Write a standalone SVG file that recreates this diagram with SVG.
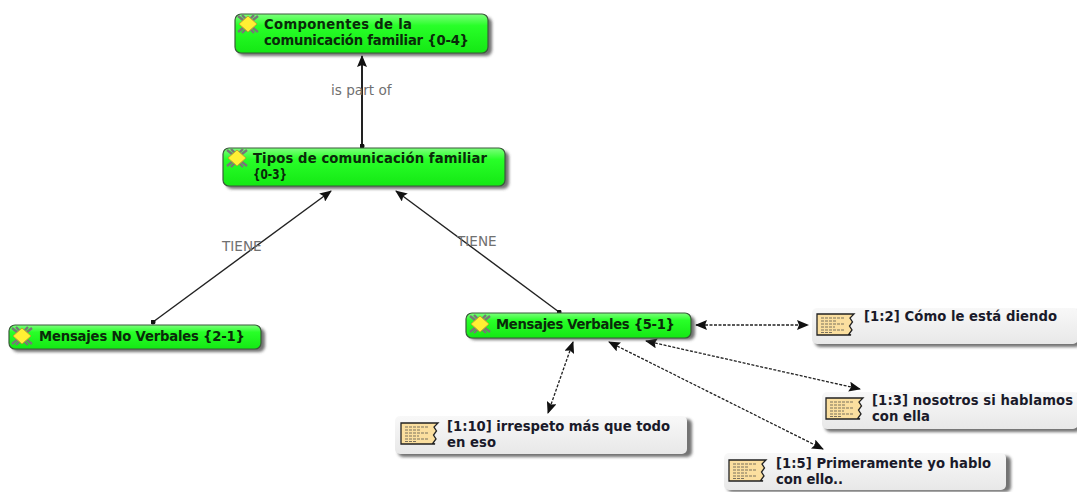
<svg xmlns="http://www.w3.org/2000/svg" width="1077" height="492" viewBox="0 0 1077 492">
<style>
text{font-family:"DejaVu Sans",sans-serif}
.t{font-size:13.2px;font-weight:600;fill:#0a2a0a}
.q{font-size:13.2px;font-weight:600;fill:#1a1a2a}
.l{font-size:13.6px;fill:#707070}
.code{fill:url(#g);stroke:#3a5a3a;stroke-width:1.2}
.quote{fill:url(#q);}
.sh{fill:#444;opacity:.75;filter:url(#b)}
.c{fill:none;stroke:#222;stroke-width:1.4}
.s{stroke-width:2}
.d{stroke-dasharray:3 1.500;stroke-width:1.3}
.ln{stroke:#444;stroke-width:.7}
</style>
<defs>
<linearGradient id="g" x1="0" y1="0" x2="0" y2="1"><stop offset="0" stop-color="#7dff7d"/><stop offset=".3" stop-color="#28ff28"/><stop offset="1" stop-color="#14e814"/></linearGradient>
<linearGradient id="q" x1="0" y1="0" x2="0" y2="1"><stop offset="0" stop-color="#f8f8f8"/><stop offset="1" stop-color="#e8e8e8"/></linearGradient>
<filter id="b" x="-5%" y="-20%" width="110%" height="140%"><feGaussianBlur stdDeviation="1.500"/></filter>
<marker id="a" viewBox="0 0 12 10" refX="11" refY="5" markerWidth="13" markerHeight="10" markerUnits="userSpaceOnUse" orient="auto-start-reverse"><path d="M0 0L12 5L0 10L2 5Z" fill="#111"/></marker>
<marker id="o" viewBox="0 0 6 6" refX="3" refY="3" markerWidth="5" markerHeight="5" markerUnits="userSpaceOnUse"><circle cx="3" cy="3" r="3" fill="#111"/></marker>
<g id="ci">
<path d="M-10-8L10 8M-10 8L10-8M-6-9L-2-5M6-9L2-5M-6 9L-2 5M6 9L2 5" stroke="#777" stroke-width="2.400" fill="none"/>
<path d="M0-8L9 0L0 8L-9 0Z" fill="#fff033" stroke="#b8a830" stroke-width="1"/>
</g>
<g id="qi">
<path d="M0 0H35L37 0L33 4L35.500 8L32.500 12L35 16L32 20L34 21H0Z" fill="#fbdf9f" stroke="#222" stroke-width="1.300"/>
<path d="M4 4H27M4 7H20M4 10H28M4 13H18M4 16H27M4 18.500H16" class="ln" stroke-dasharray="3 1"/>
</g>
</defs>
<g id="connectors">
<path class="c s" d="M362 146V56" marker-start="url(#o)" marker-end="url(#a)"/>
<path class="c" d="M153 322L331 191" marker-start="url(#o)" marker-end="url(#a)"/>
<path class="c" d="M559 312L396 191" marker-start="url(#o)" marker-end="url(#a)"/>
<path class="c d" d="M696 325H808" marker-start="url(#a)" marker-end="url(#a)"/>
<path class="c d" d="M646 341L860 389" marker-start="url(#a)" marker-end="url(#a)"/>
<path class="c d" d="M609 342L823 449" marker-start="url(#a)" marker-end="url(#a)"/>
<path class="c d" d="M573 342L548 413" marker-start="url(#a)" marker-end="url(#a)"/>
<text class="l" x="331" y="95">is part of</text>
<text class="l" x="222" y="251">TIENE</text>
<text class="l" x="457" y="246">TIENE</text>
</g>
<g id="n1">
<rect class="sh" x="238" y="17" width="254" height="39" rx="6"/>
<rect class="code" x="235" y="14" width="253" height="39" rx="6"/>
<use href="#ci" x="248" y="24"/>
<text class="t" x="264" y="29" textLength="148">Componentes de la</text>
<text class="t" x="264" y="45" textLength="205">comunicación familiar {0-4}</text>
</g>
<g id="n2">
<rect class="sh" x="226" y="151" width="283" height="38" rx="6"/>
<rect class="code" x="223" y="148" width="282" height="38" rx="6"/>
<use href="#ci" x="237" y="158"/>
<text class="t" x="253" y="163" textLength="234">Tipos de comunicación familiar</text>
<text class="t" x="253" y="179" textLength="34" lengthAdjust="spacingAndGlyphs">{0-3}</text>
</g>
<g id="n3">
<rect class="sh" x="12" y="328" width="253" height="24" rx="6"/>
<rect class="code" x="9" y="325" width="252" height="24" rx="6"/>
<use href="#ci" x="22" y="336"/>
<text class="t" x="39" y="341" textLength="206">Mensajes No Verbales {2-1}</text>
</g>
<g id="n4">
<rect class="sh" x="469" y="316" width="226" height="24" rx="6"/>
<rect class="code" x="466" y="313" width="225" height="25" rx="6"/>
<use href="#ci" x="480" y="324"/>
<text class="t" x="496" y="329" textLength="179">Mensajes Verbales {5-1}</text>
</g>
<g id="q1">
<rect class="sh" x="815" y="311" width="266" height="36" rx="5"/>
<rect class="quote" x="812" y="308" width="266" height="36" rx="5"/>
<use href="#qi" x="817" y="314"/>
<text class="q" x="864" y="321" textLength="193">[1:2] Cómo le está diendo</text>
</g>
<g id="q2">
<rect class="sh" x="825" y="395" width="256" height="37" rx="5"/>
<rect class="quote" x="822" y="392" width="256" height="37" rx="5"/>
<use href="#qi" x="826" y="398"/>
<text class="q" x="872" y="405" textLength="201">[1:3] nosotros si hablamos</text>
<text class="q" x="872" y="421" textLength="58">con ella</text>
</g>
<g id="q3">
<rect class="sh" x="398" y="419" width="294" height="38" rx="5"/>
<rect class="quote" x="395" y="416" width="292" height="38" rx="5"/>
<use href="#qi" x="401" y="423"/>
<text class="q" x="447" y="431" textLength="223">[1:10] irrespeto más que todo</text>
<text class="q" x="447" y="447" textLength="49">en eso</text>
</g>
<g id="q4">
<rect class="sh" x="727" y="456" width="284" height="36" rx="5"/>
<rect class="quote" x="724" y="453" width="282" height="37" rx="5"/>
<use href="#qi" x="729" y="460"/>
<text class="q" x="776" y="468" textLength="215">[1:5] Primeramente yo hablo</text>
<text class="q" x="776" y="484" textLength="67">con ello..</text>
</g>
</svg>
